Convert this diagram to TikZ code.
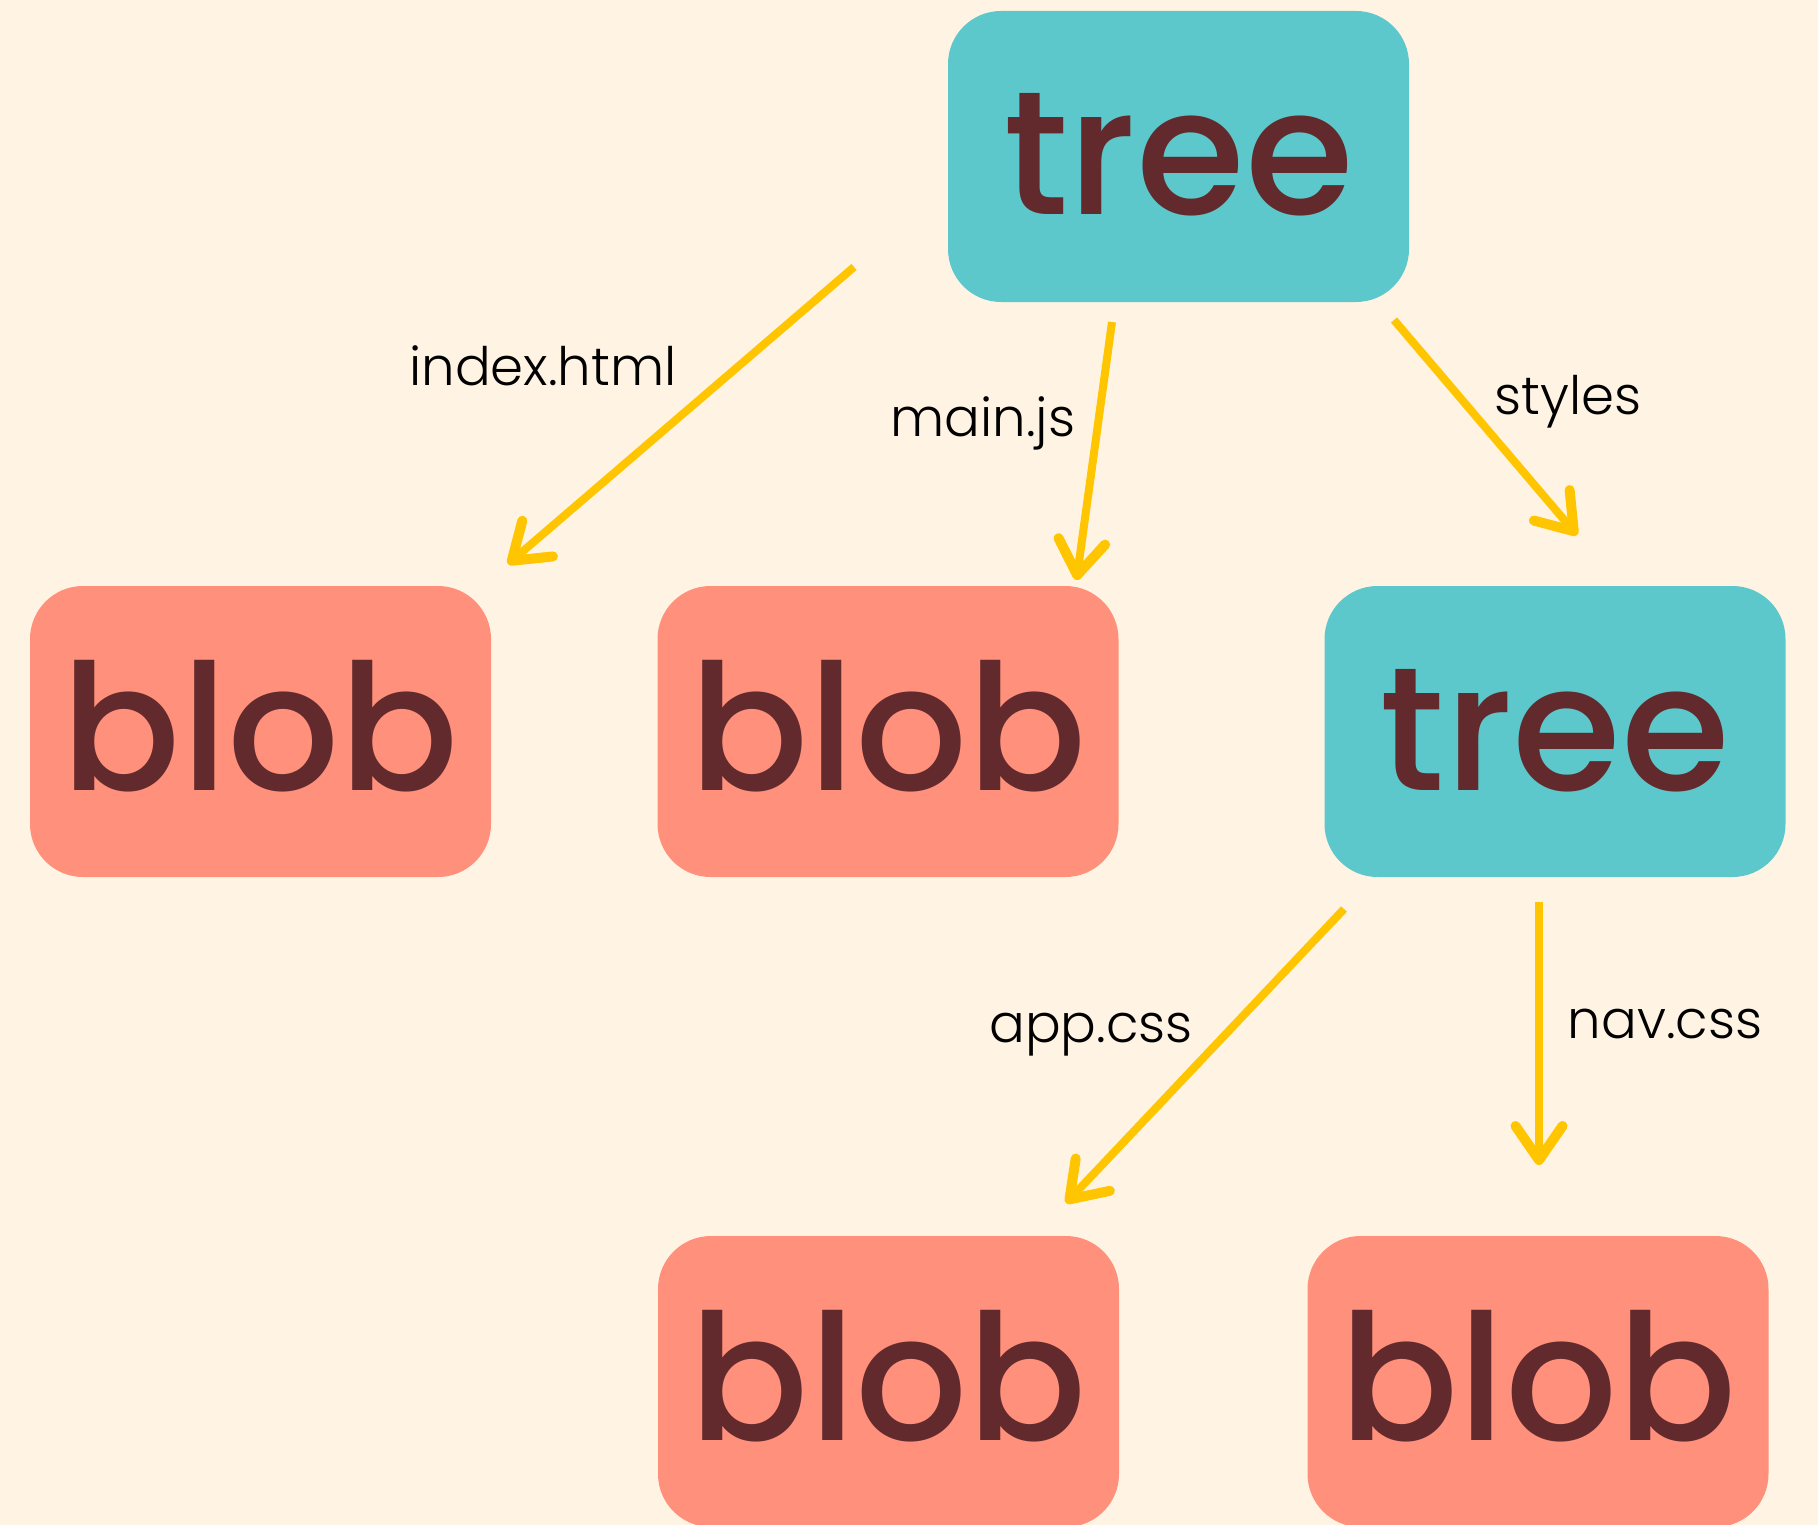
\documentclass[tikz,border=0pt]{standalone}
\usepackage{fontspec}
\setmainfont{Poppins}[UprightFont=* Light]
\newfontfamily\boxfont{Poppins}[UprightFont=* Medium]
\usetikzlibrary{arrows.meta}

\definecolor{cream}{HTML}{FFF4E3}
\definecolor{teal}{HTML}{5DC8CB}
\definecolor{salmon}{HTML}{FF917C}
\definecolor{maroon}{HTML}{622A2C}
\definecolor{amber}{HTML}{FFC501}

\tikzset{
  objbox/.style={rectangle, rounded corners=53pt, minimum width=461pt,
    minimum height=291pt, inner sep=0pt, text=maroon,
    font=\boxfont\fontsize{176}{176}\selectfont,
    text height=150pt, text depth=33pt},
  treebox/.style={objbox, fill=teal},
  blobbox/.style={objbox, fill=salmon},
  edgelabel/.style={anchor=base, inner sep=0pt, text=black,
    font=\fontsize{53}{53}\selectfont},
  link/.style={draw=amber, line width=8pt,
    -{Straight Barb[length=34pt, width=47pt, line width=10pt,
      line cap=round, line join=round]}}
}

\begin{document}
\begin{tikzpicture}[x=1pt, y=-1pt]
  % page
  \fill[cream] (0,0) rectangle (1818,1525);
  \useasboundingbox (0,0) rectangle (1818,1525);

  % objects
  \node[treebox] (root)   at (1178.5,156.5) {tree};
  \node[blobbox] (index)  at (260.5,731.5)  {blob};
  \node[blobbox] (mainjs) at (888,731.5)    {blob};
  \node[treebox] (styles) at (1555,731.5)   {tree};
  \node[blobbox] (appcss) at (888.5,1381.5) {blob};
  \node[blobbox] (navcss) at (1538,1381.5)  {blob};

  % connector end points
  \coordinate (e1s) at (854,267);   \coordinate (e1t) at (508,564);
  \coordinate (e2s) at (1112,322);  \coordinate (e2t) at (1076.5,580);
  \coordinate (e3s) at (1394,320);  \coordinate (e3t) at (1577,535);
  \coordinate (e4s) at (1344,909);  \coordinate (e4t) at (1066,1203);
  \coordinate (e5s) at (1539,902);  \coordinate (e5t) at (1539,1165);

  % connectors
  \draw[link] (e1s) -- (e1t);
  \draw[link] (e2s) -- (e2t);
  \draw[link] (e3s) -- (e3t);
  \draw[link] (e4s) -- (e4t);
  \draw[link] (e5s) -- (e5t);

  % entry names
  \node[edgelabel] (l1) at (543,385)  {index.html};
  \node[edgelabel] (l2) at (983,436)  {main.js};
  \node[edgelabel] (l3) at (1568,414) {styles};
  \node[edgelabel] (l4) at (1091,1042) {app.css};
  \node[edgelabel] (l5) at (1665,1038) {nav.css};
\end{tikzpicture}
\end{document}
